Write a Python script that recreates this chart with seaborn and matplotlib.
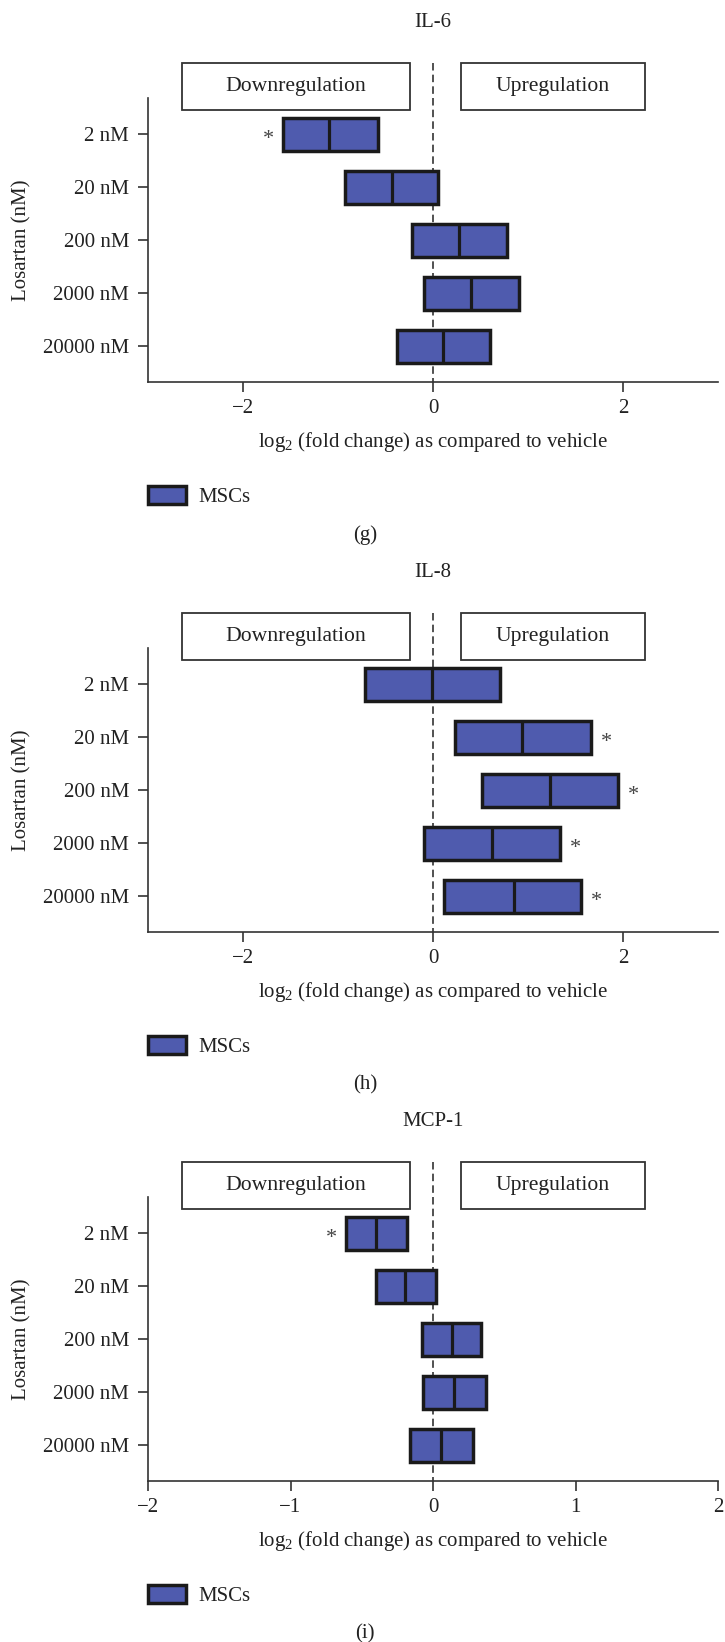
import numpy as np
import pandas as pd
import matplotlib
matplotlib.use("Agg")
import matplotlib.pyplot as plt
from matplotlib.patches import Rectangle, Patch
import seaborn as sns

# ---------------- data ----------------
concentrations = ["2 nM", "20 nM", "200 nM", "2000 nM", "20000 nM"]

il6_low = [-1.58, -0.93, -0.22, -0.10, -0.38]
il6_mid = [-1.09, -0.43, 0.27, 0.40, 0.11]
il6_high = [-0.58, 0.05, 0.78, 0.90, 0.60]
il6_sig = [True, False, False, False, False]

il8_low = [-0.72, 0.23, 0.52, -0.10, 0.12]
il8_mid = [-0.015, 0.94, 1.23, 0.62, 0.85]
il8_high = [0.70, 1.66, 1.95, 1.34, 1.56]
il8_sig = [False, True, True, True, True]

mcp1_low = [-0.61, -0.40, -0.08, -0.07, -0.16]
mcp1_mid = [-0.40, -0.20, 0.13, 0.15, 0.055]
mcp1_high = [-0.185, 0.02, 0.34, 0.37, 0.28]
mcp1_sig = [True, False, False, False, False]

titles = ["IL-6", "IL-8", "MCP-1"]
panel_labels = ["(g)", "(h)", "(i)"]
x_ticks = [[-2, 0, 2], [-2, 0, 2], [-2, -1, 0, 1, 2]]
x_limits = [(-3, 3), (-3, 3), (-2, 2)]
legend_label = "MSCs"
y_label = "Losartan (nM)"
x_label = r"log$_\mathregular{2}$ (fold change) as compared to vehicle"

# ---------------- style ----------------
sns.set_theme(style="ticks")
plt.rcParams["font.family"] = ["Liberation Serif", "DejaVu Serif"]
plt.rcParams["mathtext.fontset"] = "custom"
plt.rcParams["mathtext.rm"] = "Liberation Serif"
plt.rcParams["mathtext.it"] = "Liberation Serif:italic"
plt.rcParams["axes.unicode_minus"] = True

FILL = "#4F5BAE"
EDGE = "#1a1a1a"
TXT = "#222222"
AXC = "#333333"
FS = 15

fig = plt.figure(figsize=(7.25, 16.42), dpi=100)
W, H = 725.0, 1642.0
ax_left, ax_width = 148 / W, 570 / W
ax_height = 327 / H
bottoms = [(H - 382) / H, (H - 932) / H, (H - 1481) / H]

panels = [
    (il6_low, il6_mid, il6_high, il6_sig),
    (il8_low, il8_mid, il8_high, il8_sig),
    (mcp1_low, mcp1_mid, mcp1_high, mcp1_sig),
]

for k, (low, mid, high, sig) in enumerate(panels):
    ax = fig.add_axes([ax_left, bottoms[k], ax_width, ax_height])

    # table for the box plot: quartiles = (low, mid, high)
    rows = []
    for c, lo, md, hi in zip(concentrations, low, mid, high):
        for v in (lo, lo, md, hi, hi):
            rows.append({"conc": c, "value": v})
    df = pd.DataFrame(rows)

    sns.boxplot(
        data=df, x="value", y="conc", order=concentrations, orient="h",
        ax=ax, color=FILL, saturation=1, linecolor=EDGE, linewidth=2.5,
        width=0.62, whis=0, showcaps=False, showfliers=False,
        whiskerprops=dict(linewidth=0), medianprops=dict(color=EDGE, linewidth=2.3),
    )

    ax.set_xlim(*x_limits[k])
    ax.set_ylim(4.67, -1.5)
    ax.set_xticks(x_ticks[k])
    ax.set_xticklabels([("\u2212%d" % -t) if t < 0 else "%d" % t for t in x_ticks[k]])
    ax.set_xlabel("")
    ax.set_ylabel("")

    for s in ["top", "right"]:
        ax.spines[s].set_visible(False)
    ax.spines["left"].set_bounds(-0.68, 4.67)
    for s in ["left", "bottom"]:
        ax.spines[s].set_color(AXC)
        ax.spines[s].set_linewidth(1.2)
    ax.tick_params(axis="x", direction="out", length=7, width=1.2, color=AXC,
                   labelsize=FS, labelcolor=TXT, pad=5)
    ax.tick_params(axis="y", direction="out", length=7.5, width=1.2, color=AXC,
                   labelsize=FS, labelcolor=TXT, pad=6)

    # zero reference line
    ax.vlines(0, -1.34, 4.67, colors=AXC, linewidth=1.2,
              linestyles=(0, (4.5, 2.5)), zorder=0.5)

    # up / down regulation header boxes
    trans = matplotlib.transforms.blended_transform_factory(ax.transAxes, ax.transData)
    for (x0, x1), txt in [((0.0596, 0.4596), "Downregulation"), ((0.549, 0.872), "Upregulation")]:
        ax.add_patch(Rectangle((x0, -1.34), x1 - x0, 0.87, transform=trans,
                               facecolor="white", edgecolor=AXC, linewidth=1.3,
                               clip_on=False, zorder=3))
        ax.text((x0 + x1) / 2, -0.905, txt, transform=trans, ha="center",
                va="center", fontsize=15.6, color=TXT, zorder=4)

    # significance stars
    for i, (lo, md, hi, s) in enumerate(zip(low, mid, high, sig)):
        if not s:
            continue
        if md < 0:
            ax.annotate("*", xy=(lo, i), xytext=(-10.5, -3.5), textcoords="offset points",
                        ha="center", va="center", fontsize=16, color="#444444")
        else:
            ax.annotate("*", xy=(hi, i), xytext=(11, -3.5), textcoords="offset points",
                        ha="center", va="center", fontsize=16, color="#444444")

    # titles & labels
    ax.text(0.5, 1.098, titles[k], transform=ax.transAxes, ha="center",
            va="center", fontsize=FS, color=TXT)
    ax.text(-0.221, 0.434, y_label, transform=ax.transAxes, rotation=90,
            ha="center", va="center", fontsize=FS, color=TXT)
    ax.text(0.5, -0.183, x_label, transform=ax.transAxes, ha="center",
            va="center", fontsize=FS, color=TXT)
    ax.text(0.381, -0.468, panel_labels[k], transform=ax.transAxes, ha="center",
            va="center", fontsize=FS, color=TXT)

    handle = Patch(facecolor=FILL, edgecolor=EDGE, linewidth=2.5)
    ax.legend(handles=[handle], labels=[legend_label], loc="center left",
              bbox_to_anchor=(0.0, -0.351), frameon=False, fontsize=FS,
              handlelength=1.8, handleheight=0.9, handletextpad=0.6,
              borderpad=0, borderaxespad=0, labelcolor=TXT)

fig.savefig("out.png", dpi=100)
